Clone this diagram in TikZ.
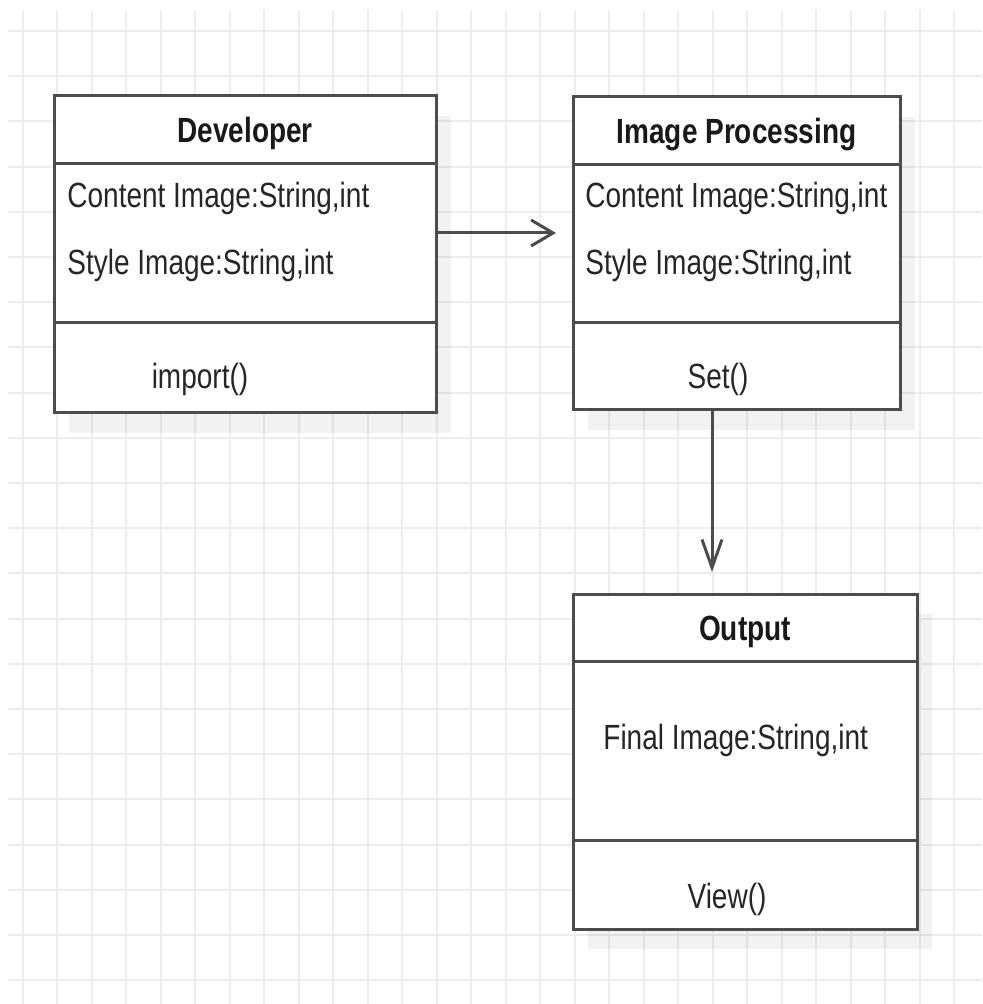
\documentclass[tikz,border=0pt]{standalone}
\usepackage{fontspec}
\setmainfont{Liberation Sans}[FakeStretch=0.8]
\usepackage{tikz}
\usetikzlibrary{arrows.meta}
\usetikzlibrary{positioning}
\usetikzlibrary{backgrounds}

\tikzset{
    cell/.style={draw=black!70, line width=1.5pt, fill=white, inner sep=0pt, outer sep=0pt,
        minimum width=#1, font=\fontsize{17.5pt}{21pt}\selectfont},
    title/.style={font=\fontsize{17.5pt}{21pt}\selectfont\bfseries, text=black!90,
        text height=16pt, text depth=3pt},
    field/.style={font=\fontsize{17.5pt}{21pt}\selectfont, text=black!85, inner sep=0pt},
    link/.style={draw=black!70, line width=1.5pt},
    gridline/.style={draw=black!7, line width=1pt},
    shadowbox/.style={fill=black, opacity=0.05},
}

\begin{document}
\begin{tikzpicture}[x=0.5pt, y=-0.5pt]
        \useasboundingbox (0,0) rectangle (982,1004);

        % Developer
        \node[cell=191pt, minimum height=34pt, anchor=north west, title] (dev-head) at (54,96) {Developer};
        \node[cell=191pt, minimum height=79.5pt, below=0pt of dev-head] (dev-attr) {};
        \node[cell=191pt, minimum height=45pt, below=0pt of dev-attr] (dev-meth) {};
        \node[field, anchor=west] (dev-a1) at (67,198) {Content Image:String,int};
        \node[field, anchor=west] (dev-a2) at (67,265) {Style Image:String,int};
        \node[field] (dev-op) at (200,379) {import()};

        % Image Processing
        \node[cell=163.5pt, minimum height=34pt, anchor=north west, title] (proc-head) at (573,97) {Image Processing};
        \node[cell=163.5pt, minimum height=79pt, below=0pt of proc-head] (proc-attr) {};
        \node[cell=163.5pt, minimum height=43.5pt, below=0pt of proc-attr] (proc-meth) {};
        \node[field, anchor=west] (proc-a1) at (585,198) {Content Image:String,int};
        \node[field, anchor=west] (proc-a2) at (585,265) {Style Image:String,int};
        \node[field] (proc-op) at (718,379) {Set()};

        % Output
        \node[cell=172pt, minimum height=33.5pt, anchor=north west, title] (out-head) at (573,594) {Output};
        \node[cell=172pt, minimum height=89.5pt, below=0pt of out-head] (out-attr) {};
        \node[cell=172pt, minimum height=44.5pt, below=0pt of out-attr] (out-meth) {};
        \node[field, anchor=west] (out-a1) at (603,740) {Final Image:String,int};
        \node[field] (out-op) at (727,899) {View()};

        % arrows
        \coordinate (dev-to) at (556,233);
        \coordinate (proc-to) at (712,572);
        \draw[link, -{Straight Barb[length=11pt,width=13pt]}] (dev-attr.east |- dev-to) -- (dev-to);
        \draw[link, -{Straight Barb[length=14pt,width=10pt]}] (proc-meth.south -| proc-to) -- (proc-to);

        \begin{scope}[on background layer]
            \fill[white] (0,0) rectangle (982,1004);
            \foreach \gx in {0,...,27}
                \draw[gridline] (22.5+34.5*\gx,10) -- (22.5+34.5*\gx,1004);
            \foreach \gy in {0,...,21}
                \draw[gridline] (8,31+45.2*\gy) -- (982,31+45.2*\gy);
            \foreach \cls in {dev,proc,out}
                \fill[shadowbox] ([xshift=7.5pt,yshift=-10pt]\cls-head.north west)
                    rectangle ([xshift=7.5pt,yshift=-10pt]\cls-meth.south east);
        \end{scope}
\end{tikzpicture}
\end{document}
